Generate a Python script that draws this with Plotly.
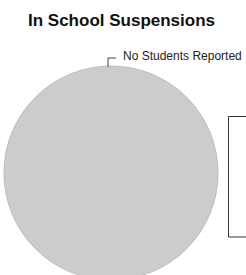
import plotly.graph_objects as go

# Data
categories = ["No Students Reported"]
values = [1]
title_text = "In School Suspensions"

W, H = 246, 281

def px(x):
    return x / W

def py(y):
    return 1 - y / H

fig = go.Figure(
    go.Pie(
        labels=categories,
        values=values,
        textinfo="none",
        hoverinfo="label",
        sort=False,
        marker=dict(colors=["#cccccc"], line=dict(color="#bdbdbd", width=1)),
        domain=dict(x=[px(4), px(218)], y=[py(280), py(66)]),
        showlegend=False,
    )
)

fig.update_layout(
    width=W,
    height=H,
    margin=dict(l=0, r=0, t=0, b=0),
    paper_bgcolor="white",
    plot_bgcolor="white",
    font=dict(family="Liberation Sans, Arial, sans-serif", color="#222222"),
    annotations=[
        dict(
            text="<b>" + title_text + "</b>",
            x=px(121), y=py(21), xref="paper", yref="paper",
            xanchor="center", yanchor="middle", showarrow=False,
            font=dict(size=17, color="#111111", family="Liberation Sans, Arial, sans-serif"),
        ),
        dict(
            text=categories[0],
            x=px(121), y=py(56), xref="paper", yref="paper",
            xanchor="left", yanchor="middle", showarrow=False,
            font=dict(size=12, color="#222222", family="Liberation Sans, Arial, sans-serif"),
        ),
    ],
    shapes=[
        dict(
            type="path", xref="paper", yref="paper",
            path=f"M {px(108)} {py(67)} L {px(108)} {py(58)} L {px(116)} {py(58)}",
            line=dict(color="#444444", width=1),
        ),
        dict(
            type="rect", xref="paper", yref="paper",
            x0=px(228.5), x1=px(260), y0=py(237), y1=py(116.5),
            line=dict(color="#333333", width=1),
            fillcolor="rgba(0,0,0,0)",
        ),
    ],
)

fig.write_html(
    "out.html",
    config={"displayModeBar": False},
    post_script="document.body.style.margin='0';document.body.style.overflow='hidden';document.documentElement.style.overflow='hidden';",
)
